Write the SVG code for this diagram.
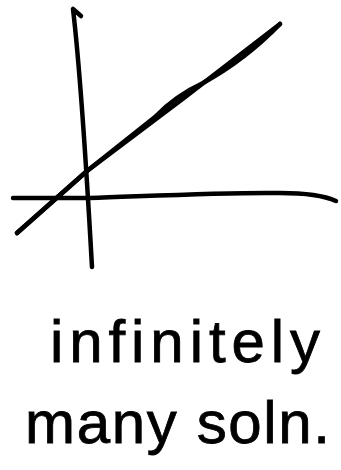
<svg xmlns="http://www.w3.org/2000/svg" width="341" height="470" viewBox="0 0 341 470">
<style>
.s{fill:none;stroke:#000;stroke-width:4.5;stroke-linecap:round;stroke-linejoin:round}
.t{font-family:"Liberation Sans","DejaVu Sans",sans-serif;font-size:60px;fill:#000;stroke:#000;stroke-width:0.8}
</style>
<rect width="341" height="470" fill="#fff"/>
<g id="y-axis">
<path class="s" d="M81,16 L73,9 C79,60 86,160 92,267"/>
</g>
<g id="x-axis">
<path class="s" d="M13,198 L90,198 C150,196 230,192 280,193 C310,193 325,196 336,201"/>
</g>
<g id="lines">
<path class="s" d="M17,233 L87,171 Q185,98 280,24"/>
<path class="s" d="M17,233 L87,171 L155,117 Q175,96 203,83 Q245,60 280,24"/>
</g>
<g id="label">
<text class="t" x="50" y="362" textLength="270" lengthAdjust="spacing">infinitely</text>
<text class="t" x="25" y="443" textLength="305" lengthAdjust="spacing">many soln.</text>
</g>
</svg>
